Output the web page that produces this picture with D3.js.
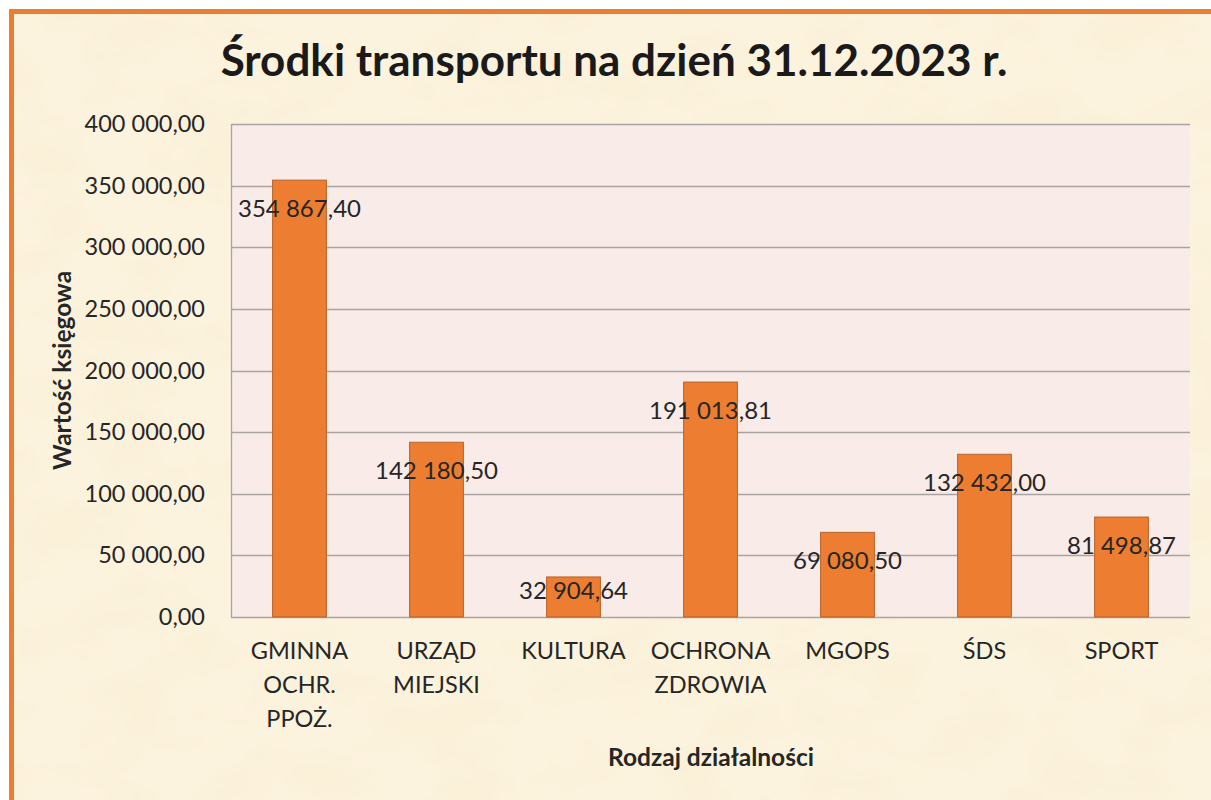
<!DOCTYPE html>
<html><head><meta charset="utf-8">
<script src="https://cdn.jsdelivr.net/npm/d3@7"></script>
<style>html,body{margin:0;padding:0;background:#fff;overflow:hidden}</style>
</head><body><svg id="c" width="1211" height="800"></svg>
<script>
const categories = ["GMINNA OCHR. PPOŻ.", "URZĄD MIEJSKI", "KULTURA", "OCHRONA ZDROWIA", "MGOPS", "ŚDS", "SPORT"];
const values = [354867.40, 142180.50, 32904.64, 191013.81, 69080.50, 132432.00, 81498.87];
const yTicks = [0, 50000, 100000, 150000, 200000, 250000, 300000, 350000, 400000];
const titleText = "Środki transportu na dzień 31.12.2023 r.";
const yTitleText = "Wartość księgowa";
const xTitleText = "Rodzaj działalności";

const W = 1211, H = 800;
const plot = {left: 231, right: 1190, top: 124, bottom: 617};
const FONT = "Lato, 'Open Sans', sans-serif";
const TXT = "#262626";

const pl = d3.formatLocale({decimal: ",", thousands: "\u00a0", grouping: [3], currency: ["", ""]});
const fmt = pl.format(",.2f");

const svg = d3.select("#c");
const defs = svg.append("defs");
const f = defs.append("filter").attr("id", "tex").attr("x", 0).attr("y", 0).attr("width", "100%").attr("height", "100%");
f.append("feTurbulence").attr("type", "fractalNoise").attr("baseFrequency", "0.012 0.02").attr("numOctaves", 4).attr("seed", 7);
f.append("feColorMatrix").attr("type", "matrix")
  .attr("values", "0 0 0 0 0.94  0 0 0 0 0.84  0 0 0 0 0.62  0 0 0 0.9 -0.36");

// white page + chart frame
svg.append("rect").attr("width", W).attr("height", H).attr("fill", "#ffffff");
svg.append("rect").attr("x", 11.5).attr("y", 11.5).attr("width", W + 20).attr("height", H + 20)
  .attr("fill", "#fcf3de");
svg.append("rect").attr("x", 14).attr("y", 14).attr("width", W).attr("height", H)
  .attr("filter", "url(#tex)");
svg.append("rect").attr("x", 11.5).attr("y", 11.5).attr("width", W + 20).attr("height", H + 20)
  .attr("fill", "none").attr("stroke", "#ed7d31").attr("stroke-width", 5);

const x = d3.scaleBand().domain(categories).range([plot.left, plot.right]).paddingInner(0.6).paddingOuter(0.3);
const y = d3.scaleLinear().domain([0, 400000]).range([plot.bottom, plot.top]);

// plot area
svg.append("rect").attr("x", plot.left).attr("y", plot.top)
  .attr("width", plot.right - plot.left).attr("height", plot.bottom - plot.top).attr("fill", "#f9ebe7");

// gridlines
svg.append("g").selectAll("line").data(yTicks).join("line")
  .attr("x1", plot.left).attr("x2", plot.right)
  .attr("y1", d => Math.round(y(d)) + 0.5).attr("y2", d => Math.round(y(d)) + 0.5)
  .attr("stroke", "#aaa3a3").attr("stroke-width", 1.3);
svg.append("line").attr("x1", plot.left + 0.5).attr("x2", plot.left + 0.5)
  .attr("y1", plot.top).attr("y2", plot.bottom + 1).attr("stroke", "#aaa3a3").attr("stroke-width", 1.3);

// y axis labels
const yAxis = d3.axisLeft(y).tickValues(yTicks).tickFormat(fmt).tickSize(0).tickPadding(26);
const gy = svg.append("g").attr("transform", `translate(${plot.left},0)`).call(yAxis);
gy.select(".domain").remove();
gy.selectAll("text").attr("font-family", FONT).attr("font-size", 23.5).attr("fill", TXT);

// bars
svg.append("g").selectAll("rect").data(values).join("rect")
  .attr("x", (d, i) => x(categories[i]) + 0.5)
  .attr("y", d => y(d) + 0.5)
  .attr("width", x.bandwidth() - 1)
  .attr("height", d => y(0) - y(d) - 0.5)
  .attr("fill", "#ed7d31").attr("stroke", "#b9632a").attr("stroke-width", 1);

// data labels
svg.append("g").selectAll("text").data(values).join("text")
  .attr("x", (d, i) => x(categories[i]) + x.bandwidth() / 2)
  .attr("y", d => Math.min(y(d) + 29, (y(d) + y(0)) / 2 - 6))
  .attr("dy", "0.35em")
  .attr("text-anchor", "middle")
  .attr("font-family", FONT).attr("font-size", 24).attr("fill", TXT)
  .text(d => fmt(d));

// category labels
const gx = svg.append("g");
categories.forEach(c => {
  const t = gx.append("text")
    .attr("x", x(c) + x.bandwidth() / 2).attr("y", plot.bottom + 34)
    .attr("text-anchor", "middle").attr("font-family", FONT).attr("font-size", 23.5).attr("fill", TXT);
  c.split(" ").forEach((w, k) => {
    t.append("tspan").attr("x", x(c) + x.bandwidth() / 2).attr("dy", k === 0 ? "0.35em" : 34).text(w);
  });
});

// title
svg.append("text").attr("x", 614).attr("y", 61).attr("dy", "0.35em")
  .attr("text-anchor", "middle").attr("font-family", FONT).attr("font-weight", 700)
  .attr("font-size", 44).attr("fill", "#1a1a1a").text(titleText);

// axis titles
svg.append("text").attr("transform", `translate(62,${(plot.top + plot.bottom) / 2}) rotate(-90)`)
  .attr("dy", "0.35em").attr("text-anchor", "middle").attr("font-family", FONT).attr("font-weight", 700)
  .attr("font-size", 24.5).attr("fill", TXT).text(yTitleText);
svg.append("text").attr("x", 711).attr("y", 757).attr("dy", "0.35em")
  .attr("text-anchor", "middle").attr("font-family", FONT).attr("font-weight", 700)
  .attr("font-size", 24.5).attr("fill", TXT).text(xTitleText);
</script></body></html>
